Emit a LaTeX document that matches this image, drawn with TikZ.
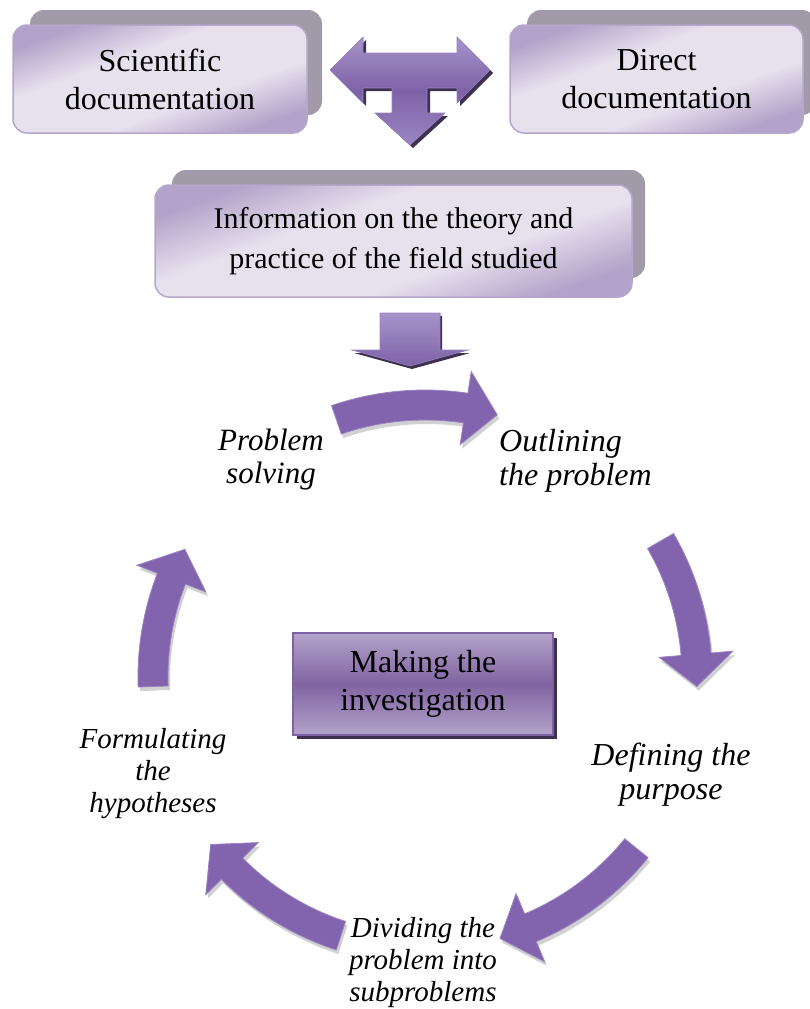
\documentclass[tikz,border=0pt]{standalone}
\usepackage{fontspec}
\setmainfont{Liberation Serif}
\usetikzlibrary{calc}
\definecolor{bxlight}{HTML}{E7E1EE}
\definecolor{bxdark}{HTML}{B3A2C9}
\definecolor{bxedge}{HTML}{B6A6CC}
\definecolor{bxshadow}{HTML}{A19AA8}
\definecolor{arr}{HTML}{8264AE}
\definecolor{arrtop}{HTML}{A694CA}
\definecolor{arrmid}{HTML}{7E62A8}
\definecolor{arrbot}{HTML}{9B86C2}
\definecolor{arredge}{HTML}{9A84C2}
\definecolor{arrshadow}{HTML}{3E3150}
\definecolor{mkmid}{HTML}{8064A2}
\definecolor{mklight}{HTML}{B3A3CA}
\definecolor{mkedge}{HTML}{7E63A2}
\pgfdeclareverticalshading{boxshade}{100bp}{color(0bp)=(bxdark); color(25bp)=(bxdark); color(40bp)=(bxlight); color(60bp)=(bxlight); color(75bp)=(bxdark); color(100bp)=(bxdark)}
\tikzset{
  docbox/.style={rounded corners=14pt, draw=bxedge, line width=1.5pt, shade, shading=boxshade, shading angle=20,
    align=center, font=\fontsize{32}{38}\selectfont, inner sep=0pt},
  boxshadow/.style={fill=bxshadow, rounded corners=14pt},
  blockarrow/.style={draw=arredge, line width=0.6pt, top color=arrtop, bottom color=arrbot, middle color=arrmid},
  blockshadow/.style={fill=arrshadow},
  cyclebody/.style={fill=arr, draw=arredge, line width=0.8pt},
  cycleshadow/.style={fill=black, opacity=0.18},
  steplabel/.style={font=\fontsize{29}{32}\selectfont\itshape, align=center, inner sep=0pt},
  biglabel/.style={font=\fontsize{32}{34}\selectfont\itshape, inner sep=0pt},
  mkbox/.style={draw=mkedge, line width=1.5pt, top color=mklight, bottom color=mklight, middle color=mkmid,
    align=center, font=\fontsize{32}{38}\selectfont, inner sep=0pt, minimum width=260pt, minimum height=102pt},
}
\newcommand{\cycarrow}[2]{%
  \pgfmathsetmacro{\hb}{#2-6.8}%
  \begin{scope}[shift={(C)}]
    \fill[cycleshadow, shift={(2,4)}] (#1:287) arc[start angle=#1, end angle=\hb, radius=287] -- (\hb:309) -- (#2:272) -- (\hb:235) -- (\hb:257) arc[start angle=\hb, end angle=#1, radius=257] -- cycle;
    \filldraw[cyclebody] (#1:287) arc[start angle=#1, end angle=\hb, radius=287] -- (\hb:309) -- (#2:272) -- (\hb:235) -- (\hb:257) arc[start angle=\hb, end angle=#1, radius=257] -- cycle;
  \end{scope}}
\begin{document}
\begin{tikzpicture}[x=1pt,y=-1pt]
\useasboundingbox[fill=white] (0,0) rectangle (810,1009);
\coordinate (C) at (425,677);
% top boxes
\fill[boxshadow] (30,10) rectangle (322,115);
\node[docbox, minimum width=294pt, minimum height=108pt] (sci) at (160,79) {Scientific\\documentation};
\fill[boxshadow] (527,10) rectangle (816,115);
\node[docbox, minimum width=293pt, minimum height=108pt] (dir) at (656.5,79) {Direct\\documentation};
% T arrow
\fill[blockshadow, shift={(3,3)}] (330,70) -- (363,37) -- (363,53) -- (457,53) -- (457,37) -- (490,70) -- (457,103) -- (457,88) -- (427,88) -- (427,113) -- (445,113) -- (410,145) -- (375,113) -- (392,113) -- (392,88) -- (363,88) -- (363,103) -- cycle;
\filldraw[blockarrow] (330,70) -- (363,37) -- (363,53) -- (457,53) -- (457,37) -- (490,70) -- (457,103) -- (457,88) -- (427,88) -- (427,113) -- (445,113) -- (410,145) -- (375,113) -- (392,113) -- (392,88) -- (363,88) -- (363,103) -- cycle;
% info box
\fill[boxshadow] (172,170) rectangle (645,278);
\node[docbox, minimum width=477pt, minimum height=112pt, font=\fontsize{30}{40}\selectfont] (info) at (393.5,241) {Information on the theory and\\practice of the field studied};
% down arrow
\fill[blockshadow, shift={(2,3)}] (380,313) -- (440,313) -- (440,350) -- (468,350) -- (410,366) -- (352,350) -- (380,350) -- cycle;
\filldraw[draw=arredge, line width=0.6pt, top color=arrtop, bottom color=arrmid] (380,313) -- (440,313) -- (440,350) -- (468,350) -- (410,366) -- (352,350) -- (380,350) -- cycle;
% cycle arrows
\cycarrow{-109}{-74.6}
\cycarrow{-30}{2}
\cycarrow{39}{74}
\cycarrow{108}{142}
\cycarrow{-182}{-152}
% center box
\fill[arrshadow] (297,638) rectangle (557,739);
\node[mkbox] (mk) at (423,684) {Making the\\investigation};
% labels
\node[steplabel, font=\fontsize{31}{33}\selectfont\itshape] (ps) at (271,460) {Problem\\solving};
\node[biglabel, align=left, anchor=west] (ol) at (499,461) {Outlining\\the problem};
\node[biglabel, align=center] (dp) at (671,775) {Defining the\\purpose};
\node[steplabel] (dv) at (423,963) {Dividing the\\problem into\\subproblems};
\node[steplabel] (fh) at (153,774) {Formulating\\the\\hypotheses};
\end{tikzpicture}
\end{document}
